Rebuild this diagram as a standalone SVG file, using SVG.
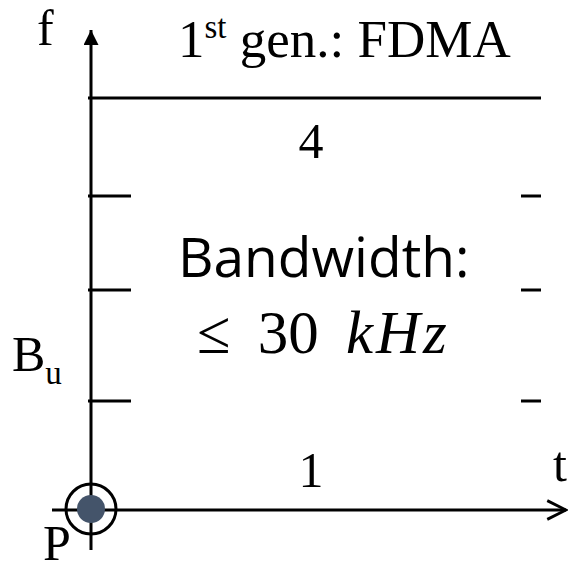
<svg xmlns="http://www.w3.org/2000/svg" width="573" height="572" viewBox="0 0 573 572">
<style>
.ln{stroke:#000;stroke-width:3;fill:none}
.serif{font-family:"Liberation Serif","Times New Roman",serif;fill:#000}
.sans{font-family:"Open Sans","Liberation Sans",sans-serif;fill:#000}
</style>
<defs>
<marker id="fa" viewBox="0 0 10 10" refX="10" refY="5" markerWidth="5.3" markerHeight="5" orient="auto" markerUnits="strokeWidth"><path d="M0,0 L10,5 L0,10 z" fill="#000"/></marker>
<marker id="oa" viewBox="0 0 12 12" refX="11" refY="6" markerWidth="7.5" markerHeight="7.5" orient="auto" markerUnits="strokeWidth"><path d="M1,1 L11,6 L1,11" fill="none" stroke="#000" stroke-width="1.5"/></marker>
</defs>
<g id="axes">
<line class="ln" x1="91" y1="550" x2="91" y2="30" marker-end="url(#fa)"/>
<line class="ln" x1="52" y1="510" x2="566" y2="510" marker-end="url(#oa)"/>
</g>
<g id="grid">
<line class="ln" x1="88" y1="98" x2="541" y2="98"/>
<line class="ln" x1="88" y1="196" x2="131" y2="196"/>
<line class="ln" x1="88" y1="290" x2="131" y2="290"/>
<line class="ln" x1="88" y1="401" x2="131" y2="401"/>
<line class="ln" x1="521" y1="196" x2="541" y2="196"/>
<line class="ln" x1="521" y1="290" x2="541" y2="290"/>
<line class="ln" x1="521" y1="401" x2="541" y2="401"/>
</g>
<g id="origin">
<circle cx="91" cy="509" r="25" fill="none" stroke="#000" stroke-width="3"/>
<circle cx="91" cy="509" r="14" fill="#44546a"/>
</g>
<g id="labels">
<text class="serif" x="37" y="45" font-size="50">f</text>
<text class="serif" x="178" y="57" font-size="53">1<tspan font-size="33" dy="-19">st</tspan><tspan dy="19"> gen.: FDMA</tspan></text>
<text class="serif" x="311" y="158" font-size="50" text-anchor="middle">4</text>
<text class="sans" x="178" y="277" font-size="55">Bandwidth:</text>
<text class="serif" x="197" y="353" font-size="61" word-spacing="12">≤ 30 <tspan font-style="italic" letter-spacing="3">kHz</tspan></text>
<text class="serif" x="12" y="371" font-size="50">B<tspan font-size="33" dy="13">u</tspan></text>
<text class="serif" x="311" y="487" font-size="50" text-anchor="middle">1</text>
<text class="serif" x="553" y="481" font-size="50">t</text>
<text class="serif" x="43" y="560" font-size="50">P</text>
</g>
</svg>
